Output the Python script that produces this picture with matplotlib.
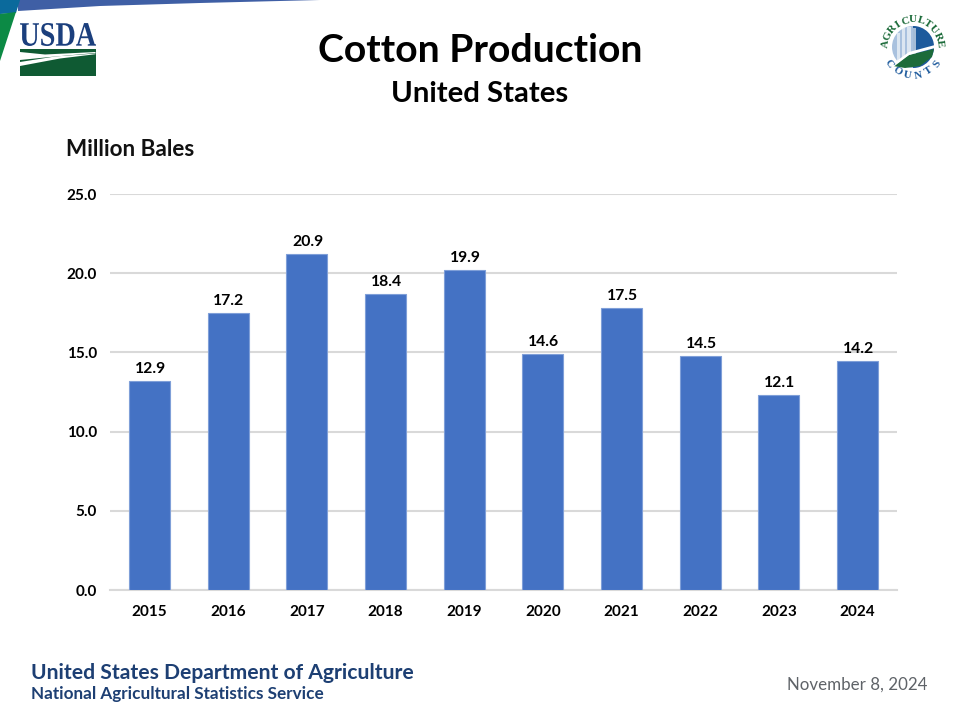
import numpy as np
import matplotlib.pyplot as plt
from matplotlib.font_manager import FontProperties
from matplotlib.patches import Polygon, Rectangle, Circle, Wedge, PathPatch
from matplotlib.path import Path
from matplotlib.textpath import TextPath

plt.rcParams['font.family'] = ['Lato', 'DejaVu Sans']

# Values (bars stand a bit higher than their labels)
years = ['2015', '2016', '2017', '2018', '2019', '2020', '2021', '2022', '2023', '2024']
bar_values = [13.2, 17.5, 21.2, 18.7, 20.2, 14.9, 17.8, 14.75, 12.3, 14.45]
bar_labels = ['12.9', '17.2', '20.9', '18.4', '19.9', '14.6', '17.5', '14.5', '12.1', '14.2']
y_ticks = [0, 5, 10, 15, 20, 25]

W, H = 960, 720
fig = plt.figure(figsize=(W / 100, H / 100), dpi=100)

# Overlay in pixel coordinates for the slide decoration
bg = fig.add_axes([0, 0, 1, 1])
bg.set_xlim(0, W)
bg.set_ylim(H, 0)
bg.axis('off')

# Top swoosh and corner
bg.add_patch(Polygon([(18, 0), (320, 0), (200, 3), (100, 6), (18, 11)], color='#3f5fa5', lw=0))
bg.add_patch(Polygon([(0, 0), (20, 0), (16, 13), (0, 14)], color='#0b6a9c', lw=0))
bg.add_patch(Polygon([(0, 14), (16, 12), (0, 61)], color='#0c8a45', lw=0))

# USDA logo, wordmark squeezed to the logo width
navy = '#1b3f7d'
green = '#0f5a33'
tp = TextPath((0, 0), 'USDA', size=10, prop=FontProperties(family='Liberation Serif', weight='bold'))
box = tp.get_extents()
sx, sy = 76 / box.width, 23 / box.height
verts = np.column_stack([20 + (tp.vertices[:, 0] - box.x0) * sx, 46 - (tp.vertices[:, 1] - box.y0) * sy])
bg.add_patch(PathPatch(Path(verts, tp.codes), facecolor=navy, lw=0))
bg.add_patch(Rectangle((20, 49), 75.5, 27, color=green, lw=0))
bg.add_patch(Polygon([(20, 52), (45, 54.5), (95.5, 52), (95.5, 53), (50, 57), (20, 60)], color='white', lw=0))
bg.add_patch(Polygon([(20, 62), (55, 56.5), (95.5, 53.5), (95.5, 54.2), (60, 58.5), (20, 66)], color='white', lw=0))

# Agriculture Counts logo
cx, cy = 913, 47
bg.add_patch(Circle((cx, cy), 21, color='#a9c1de', lw=0))
bg.add_patch(Wedge((cx, cy), 21, 270, 90, color='#1d5a9c', lw=0))
for bx, bw, top in [(-16, 3, 33), (-11, 3, 28), (-6, 4, 27), (0, 3, 28)]:
    bg.add_patch(Rectangle((cx + bx, top), bw, 30, color='white', alpha=0.6, lw=0))
bg.add_patch(Polygon([(cx - 20, 66), (cx - 4, 55), (cx + 21, 49), (cx + 19, 57), (cx + 7, 66), (cx - 8, 68)],
                     color='#1c6b3a', lw=0))
bg.add_patch(Polygon([(cx - 22, 65), (cx - 4, 52), (cx + 22, 45), (cx + 22, 48), (cx - 4, 55), (cx - 21, 68)],
                     color='white', lw=0))
for word, start, end, r, col in [('AGRICULTURE', 187, 353, 27, '#1c6b3a'), ('COUNTS', 145, 35, 29, '#1d5a9c')]:
    for ang, ch in zip(np.linspace(start, end, len(word)), word):
        a = np.radians(ang)
        rot = (270 - ang) if start < end else (90 - ang)
        bg.text(cx + r * np.cos(a), cy + r * np.sin(a), ch, family='Liberation Serif', fontsize=8,
                fontweight='bold', color=col, ha='center', va='center', rotation=rot)

# Titles
bg.text(480, 50, 'Cotton Production', fontsize=28.2, fontweight='bold', color='black', ha='center', va='center')
bg.text(480, 94, 'United States', fontsize=21.2, fontweight='bold', color='black', ha='center', va='center')
bg.text(66, 150, 'Million Bales', fontsize=16.2, fontweight='bold', color='#111111', ha='left', va='center')

# Footer
bg.text(31, 673, 'United States Department of Agriculture', fontsize=15.2, fontweight='bold',
        color='#1d3f73', ha='left', va='center')
bg.text(31, 694, 'National Agricultural Statistics Service', fontsize=12.3, fontweight='bold',
        color='#1d3f73', ha='left', va='center')
bg.text(927, 685, 'November 8, 2024', fontsize=12.2, color='#5f6368', ha='right', va='center')

# Chart
ax = fig.add_axes([110 / W, 1 - 590 / H, 787 / W, 396 / H])
ax.patch.set_alpha(0)
x = np.arange(len(years))
bars = ax.bar(x, bar_values, width=0.52, color='#4472c4', edgecolor='#7f9fd8', linewidth=0.8, zorder=3)
for b, lab in zip(bars, bar_labels):
    ax.annotate(lab, (b.get_x() + b.get_width() / 2, b.get_height()), xytext=(0.7, 3.8),
                textcoords='offset points', ha='center', va='bottom', fontsize=11.3,
                fontweight='bold', color='black')

ax.set_xlim(-0.5, len(years) - 0.5)
ax.set_ylim(0, 25)
ax.set_xticks(x, years)
ax.set_yticks(y_ticks, [f'{v:.1f}' for v in y_ticks])
ax.grid(axis='y', color='#d9d9d9', linewidth=1.5, zorder=0)
ax.set_axisbelow(True)
ax.tick_params(length=0)
ax.tick_params(axis='x', pad=10.5)
ax.tick_params(axis='y', pad=9.5)
for lab in ax.get_xticklabels() + ax.get_yticklabels():
    lab.set_fontsize(11)
    lab.set_fontweight('bold')
    lab.set_color('black')
for s in ['top', 'right', 'left']:
    ax.spines[s].set_visible(False)
ax.spines['bottom'].set_color('#d9d9d9')
ax.spines['bottom'].set_linewidth(1.5)

fig.savefig('out.png', dpi=100)
